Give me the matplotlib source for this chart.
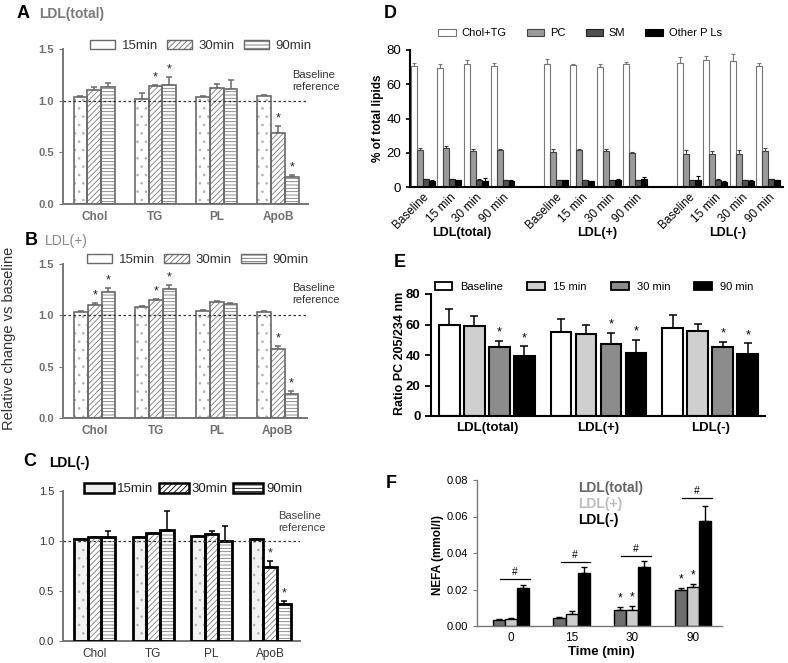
import matplotlib
matplotlib.use('Agg')
import matplotlib.pyplot as plt
import numpy as np
from matplotlib.patches import Patch

plt.rcParams['font.family'] = ['Liberation Sans', 'DejaVu Sans']
plt.rcParams['hatch.linewidth'] = 0.6

# ---------------- data ----------------
components = ['Chol', 'TG', 'PL', 'ApoB']
times_abc = ['15min', '30min', '90min']

A_15 = [1.04, 1.02, 1.035, 1.045]
A_30 = [1.10, 1.14, 1.12, 0.686]
A_90 = [1.13, 1.15, 1.11, 0.265]
A_15_err = [0.01, 0.05, 0.008, 0.008]
A_30_err = [0.035, 0.012, 0.04, 0.07]
A_90_err = [0.04, 0.08, 0.09, 0.015]
A_sig_30 = [0, 1, 0, 1]
A_sig_90 = [0, 1, 0, 1]

B_15 = [1.03, 1.08, 1.04, 1.03]
B_30 = [1.10, 1.15, 1.13, 0.67]
B_90 = [1.23, 1.26, 1.11, 0.234]
B_15_err = [0.008, 0.008, 0.008, 0.008]
B_30_err = [0.02, 0.01, 0.008, 0.03]
B_90_err = [0.035, 0.04, 0.008, 0.025]
B_sig_30 = [1, 1, 0, 1]
B_sig_90 = [1, 1, 0, 1]

C_15 = [1.017, 1.037, 1.05, 1.017]
C_30 = [1.04, 1.077, 1.067, 0.736]
C_90 = [1.04, 1.11, 1.00, 0.368]
C_15_err = [0.005, 0.005, 0.005, 0.008]
C_30_err = [0.005, 0.005, 0.035, 0.065]
C_90_err = [0.06, 0.19, 0.15, 0.035]
C_sig_30 = [0, 0, 0, 1]
C_sig_90 = [0, 0, 0, 1]

D_fractions = ['LDL(total)', 'LDL(+)', 'LDL(-)']
D_times = ['Baseline', '15 min', '30 min', '90 min']
D_series = ['Chol+TG', 'PC', 'SM', 'Other P Ls']
D_choltg = [70.4, 69.7, 71.6, 70.8, 71.6, 71.0, 70.2, 71.6, 72.6, 74.0, 73.4, 70.8]
D_choltg_err = [2.2, 2.3, 2.4, 1.8, 2.9, 1.0, 1.8, 1.4, 3.4, 2.5, 4.1, 1.8]
D_pc = [21.5, 22.6, 21.0, 21.5, 20.5, 21.5, 20.9, 19.7, 19.5, 19.5, 19.5, 20.9]
D_pc_err = [1.3, 1.4, 1.2, 0.7, 1.7, 0.7, 1.3, 1.0, 2.2, 1.8, 2.2, 1.7]
D_sm = [4.5, 4.6, 4.0, 4.0, 4.0, 4.0, 4.0, 4.0, 4.0, 4.3, 4.0, 4.6]
D_sm_err = [0.4, 0.3, 0.4, 0.3, 0.3, 0.3, 0.3, 0.3, 0.3, 0.4, 0.3, 0.3]
D_other = [3.5, 3.8, 3.6, 3.5, 3.8, 3.3, 4.2, 4.5, 4.0, 3.0, 3.5, 3.8]
D_other_err = [0.3, 0.3, 1.5, 0.3, 0.4, 0.3, 0.6, 1.3, 2.2, 0.4, 0.4, 0.5]

E_groups = ['LDL(total)', 'LDL(+)', 'LDL(-)']
E_series = ['Baseline', '15 min', '30 min', '90 min']
E_base = [59.8, 54.9, 57.6]
E_15 = [58.7, 53.8, 55.8]
E_30 = [45.5, 47.5, 45.5]
E_90 = [39.6, 41.1, 40.4]
E_base_err = [10.5, 8.6, 8.6]
E_15_err = [7.0, 6.0, 4.6]
E_30_err = [4.0, 7.2, 3.3]
E_90_err = [6.1, 8.8, 7.3]
E_sig = [0, 0, 1, 1]

F_times = ['0', '15', '30', '90']
F_series = ['LDL(total)', 'LDL(+)', 'LDL(-)']
F_total = [0.0033, 0.0044, 0.0086, 0.0196]
F_plus = [0.0038, 0.0064, 0.0086, 0.0214]
F_minus = [0.0209, 0.0291, 0.0322, 0.0577]
F_total_err = [0.0003, 0.0004, 0.0018, 0.0013]
F_plus_err = [0.0004, 0.0020, 0.0024, 0.0018]
F_minus_err = [0.0014, 0.0033, 0.0033, 0.0082]
F_sig_total = [0, 0, 1, 1]
F_sig_plus = [0, 0, 1, 1]
F_hash_y = [0.0256, 0.0352, 0.0385, 0.070]

# ---------------- figure ----------------
W, H = 788, 663
fig = plt.figure(figsize=(W / 100, H / 100), dpi=100)


def ax_px(l, t, r, b):
    return fig.add_axes([l / W, 1 - b / H, (r - l) / W, (b - t) / H])


def ftext(x, y, s, **kw):
    return fig.text(x / W, 1 - y / H, s, **kw)


def fleg(ax, handles, labels, x, y, **kw):
    return ax.legend(handles, labels, loc='center', bbox_to_anchor=(x / W, 1 - y / H),
                     bbox_transform=fig.transFigure, frameon=False, **kw)


hatches = ['..', '//////', '-----']
hatch_cols = ['#b0b0b0', '#7a7a7a', '#7a7a7a']


def abc_panel(ax, vals, errs, sigs, xlim, heavy, tickcol, tickweight):
    n = len(components)
    xs = np.arange(n)
    bw = 0.225 if not heavy else 0.234
    edge = '#6a6a6a'
    for k, (v, e, h) in enumerate(zip(vals, errs, hatches)):
        x = xs + (k - 1) * bw
        fc = '#f2f2f2' if (heavy and k == 0) else 'white'
        ax.bar(x, v, bw, color=fc, edgecolor=hatch_cols[k], hatch=h, linewidth=0, zorder=2)
        if heavy:
            ax.bar(x, v, bw, fill=False, edgecolor='black', linewidth=2.0, zorder=3)
            ecol = 'black'
        else:
            ax.bar(x, v, bw, fill=False, edgecolor=edge, linewidth=1.2, zorder=3)
            ecol = edge
        ax.errorbar(x, v, yerr=[np.zeros(n), e], fmt='none', ecolor=ecol, capsize=2.5,
                    elinewidth=1.1, capthick=1.1, zorder=1)
        if sigs[k] is not None:
            for i in range(n):
                if sigs[k][i]:
                    ax.text(x[i], v[i] + e[i] + 0.015, '*', ha='center', va='bottom',
                            fontsize=9, color='#222222')
    ax.axhline(1.0, color='#333333', ls=(0, (2, 2)), lw=0.9, zorder=4)
    ax.set_xlim(*xlim)
    ax.set_ylim(0, 1.5)
    ax.set_yticks([0, 0.5, 1.0, 1.5])
    ax.set_yticklabels(['0.0', '0.5', '1.0', '1.5'])
    ax.set_xticks(xs)
    ax.set_xticklabels(components)
    for s in ['top', 'right']:
        ax.spines[s].set_visible(False)
    scol = '#777777'
    for s in ['left', 'bottom']:
        ax.spines[s].set_color(scol)
        ax.spines[s].set_linewidth(1.4)
    ax.tick_params(axis='x', length=0, pad=5, labelsize=8.5, labelcolor=tickcol)
    ax.tick_params(axis='y', length=3, color=scol, labelsize=8, labelcolor=tickcol)
    for lab in ax.get_xticklabels() + ax.get_yticklabels():
        lab.set_fontweight(tickweight)
    ax.patch.set_visible(False)


# ---- Panel A ----
axA = ax_px(63, 49, 308, 204)
abc_panel(axA, [A_15, A_30, A_90], [A_15_err, A_30_err, A_90_err],
          [None, A_sig_30, A_sig_90], (-0.51, 3.49), False, '#6f6f6f', 'bold')
hA = [Patch(facecolor='white', edgecolor='#6a6a6a', hatch=h, linewidth=1)
      for h in ['', '//////', '-----']]
fleg(axA, hA, times_abc, 201, 46, ncol=3, fontsize=9.5, handlelength=1.9, handleheight=0.7,
     columnspacing=0.7, handletextpad=0.5, labelcolor='#333333')
ftext(292, 81, 'Baseline\nreference', fontsize=8, va='center', ha='left', color='#333333',
      linespacing=1.2)
ftext(17, 13, 'A', fontsize=13, fontweight='bold', va='center')
ftext(39, 14, 'LDL(total)', fontsize=10, fontweight='bold', color='#7a7a7a', va='center')

# ---- Panel B ----
axB = ax_px(63, 264, 307, 418)
abc_panel(axB, [B_15, B_30, B_90], [B_15_err, B_30_err, B_90_err],
          [None, B_sig_30, B_sig_90], (-0.52, 3.48), False, '#6f6f6f', 'bold')
fleg(axB, hA, times_abc, 198, 260, ncol=3, fontsize=9.5, handlelength=1.9, handleheight=0.7,
     columnspacing=0.7, handletextpad=0.5, labelcolor='#333333')
ftext(292, 294, 'Baseline\nreference', fontsize=8, va='center', ha='left', color='#333333',
      linespacing=1.2)
ftext(25, 240, 'B', fontsize=13, fontweight='bold', va='center')
ftext(45, 241, 'LDL(+)', fontsize=10, color='#8a8a8a', va='center')
ftext(9, 338, 'Relative change vs baseline', fontsize=10.5, rotation=90, va='center',
      ha='center', color='#333333')

# ---- Panel C ----
axC = ax_px(63, 491, 300, 641)
abc_panel(axC, [C_15, C_30, C_90], [C_15_err, C_30_err, C_90_err],
          [None, C_sig_30, C_sig_90], (-0.54, 3.51), True, '#333333', 'normal')
hC = [Patch(facecolor=('#eeeeee' if i == 0 else 'white'), edgecolor='black', hatch=h,
            linewidth=1.8) for i, h in enumerate(['', '//////', '-----'])]
fleg(axC, hC, times_abc, 193, 489, ncol=3, fontsize=9.5, handlelength=2.3, handleheight=0.8,
     columnspacing=0.4, handletextpad=0.2, labelcolor='#222222')
ftext(278, 522, 'Baseline\nreference', fontsize=8, va='center', ha='left', color='#444444',
      linespacing=1.2)
ftext(23, 462, 'C', fontsize=13, fontweight='bold', va='center')
ftext(49, 463, 'LDL(-)', fontsize=10, fontweight='bold', color='black', va='center')

# ---- Panel D ----
axD = ax_px(410, 50, 783, 187)
dbw = 0.225
gpos = np.array([f * 5 + t for f in range(len(D_fractions)) for t in range(len(D_times))])
d_vals = [D_choltg, D_pc, D_sm, D_other]
d_errs = [D_choltg_err, D_pc_err, D_sm_err, D_other_err]
d_fc = ['white', '#9a9a9a', '#505050', 'black']
d_ec = ['#777777', '#444444', '#222222', 'black']
for k in range(4):
    x = gpos + dbw * (k + 0.5)
    axD.bar(x, d_vals[k], dbw, color=d_fc[k], edgecolor=d_ec[k], linewidth=0.8, zorder=2)
    axD.errorbar(x, d_vals[k], yerr=[np.zeros(len(x)), d_errs[k]], fmt='none',
                 ecolor=d_ec[k], capsize=1.2, elinewidth=0.8, capthick=0.8, zorder=1)
axD.set_xlim(-0.03, 14.0)
axD.set_ylim(0, 80)
axD.set_yticks([0, 20, 40, 60, 80])
axD.set_xticks(gpos + 0.45)
axD.set_xticklabels(D_times * len(D_fractions), rotation=45, ha='right',
                    rotation_mode='anchor')
axD.tick_params(axis='x', length=0, pad=3, labelsize=8.5)
axD.tick_params(axis='y', length=3, labelsize=9.5, width=1.2)
for s in ['top', 'right']:
    axD.spines[s].set_visible(False)
for s in ['left', 'bottom']:
    axD.spines[s].set_linewidth(1.5)
hD = [Patch(facecolor=c, edgecolor=e, linewidth=0.8) for c, e in zip(d_fc, d_ec)]
fleg(axD, hD, D_series, 580, 33, ncol=4, fontsize=8, handlelength=1.6, handleheight=0.6,
     columnspacing=1.8, handletextpad=0.5)
for xc, lab in zip([462, 597, 728], D_fractions):
    ftext(xc, 233, lab, fontsize=9, fontweight='bold', ha='center', va='center')
ftext(378, 118, '% of total lipids', fontsize=8.5, fontweight='bold', rotation=90,
      ha='center', va='center')
ftext(384, 14, 'D', fontsize=13, fontweight='bold', va='center')

# ---- Panel E ----
axE = ax_px(431, 294, 765, 416)
ebw = 0.185
estep = 0.224
e_vals = [E_base, E_15, E_30, E_90]
e_errs = [E_base_err, E_15_err, E_30_err, E_90_err]
e_fc = ['white', '#cfcfcf', '#8c8c8c', 'black']
xsE = np.arange(len(E_groups))
for k in range(4):
    x = xsE + (k - 1.5) * estep
    axE.bar(x, e_vals[k], ebw, color=e_fc[k], edgecolor='black', linewidth=1.5, zorder=2)
    axE.errorbar(x, e_vals[k], yerr=[np.zeros(len(x)), e_errs[k]], fmt='none',
                 ecolor='black', capsize=3, elinewidth=1.1, capthick=1.1, zorder=1)
    if E_sig[k]:
        for i in range(len(x)):
            axE.text(x[i], e_vals[k][i] + e_errs[k][i] + 1.5, '*', ha='center',
                     va='bottom', fontsize=9)
axE.set_xlim(-0.5, 2.49)
axE.set_ylim(0, 80)
axE.set_yticks([0, 20, 40, 60, 80])
axE.set_xticks(xsE)
axE.set_xticklabels(E_groups)
axE.tick_params(axis='x', length=0, pad=4, labelsize=9.5)
axE.tick_params(axis='y', length=4, width=1.3, labelsize=9.5)
for lab in axE.get_xticklabels() + axE.get_yticklabels():
    lab.set_fontweight('bold')
for s in ['top', 'right']:
    axE.spines[s].set_visible(False)
for s in ['left', 'bottom']:
    axE.spines[s].set_linewidth(1.5)
hE = [Patch(facecolor=c, edgecolor='black', linewidth=1.3) for c in e_fc]
fleg(axE, hE, E_series, 594, 287, ncol=4, fontsize=8, handlelength=1.6, handleheight=0.7,
     columnspacing=2.2, handletextpad=0.7)
ftext(400, 353, 'Ratio PC 205/234 nm', fontsize=9, fontweight='bold', rotation=90,
      ha='center', va='center')
ftext(394, 263, 'E', fontsize=13, fontweight='bold', va='center')

# ---- Panel F ----
axF = ax_px(477, 480, 722, 626)
fbw = 0.2
f_vals = [F_total, F_plus, F_minus]
f_errs = [F_total_err, F_plus_err, F_minus_err]
f_sigs = [F_sig_total, F_sig_plus, [0, 0, 0, 0]]
f_fc = ['#6e6e6e', '#cccccc', 'black']
xsF = np.arange(len(F_times))
for k in range(3):
    x = xsF + (k - 1) * fbw
    axF.bar(x, f_vals[k], fbw, color=f_fc[k], edgecolor='black', linewidth=1.0, zorder=2)
    axF.errorbar(x, f_vals[k], yerr=[np.zeros(len(x)), f_errs[k]], fmt='none',
                 ecolor='black', capsize=2.5, elinewidth=1.0, capthick=1.0, zorder=1)
    for i in range(len(x)):
        if f_sigs[k][i]:
            axF.text(x[i], f_vals[k][i] + f_errs[k][i] + 0.0012, '*', ha='center',
                     va='bottom', fontsize=8.5)
for i in range(len(xsF)):
    axF.plot([xsF[i] - 0.18, xsF[i] + 0.31], [F_hash_y[i], F_hash_y[i]], color='black',
             lw=0.9)
    axF.text(xsF[i] + 0.06, F_hash_y[i] + 0.001, '#', ha='center', va='bottom', fontsize=7.5)
axF.set_xlim(-0.56, 3.48)
axF.set_ylim(0, 0.08)
axF.set_yticks([0, 0.02, 0.04, 0.06, 0.08])
axF.set_yticklabels(['0.00', '0.02', '0.04', '0.06', '0.08'])
axF.set_xticks(xsF)
axF.set_xticklabels(F_times)
axF.tick_params(axis='x', length=0, pad=4, labelsize=8.5)
axF.tick_params(axis='y', length=3, color='#777777', labelsize=8)
for s in ['top', 'right']:
    axF.spines[s].set_visible(False)
for s in ['left', 'bottom']:
    axF.spines[s].set_color('#777777')
    axF.spines[s].set_linewidth(1.0)
for lab, col, yy in zip(F_series, ['#666666', '#bdbdbd', 'black'], [488, 504, 520]):
    ftext(578, yy, lab, fontsize=10, fontweight='bold', color=col, va='center')
ftext(438, 555, 'NEFA (mmol/l)', fontsize=8.5, fontweight='bold', rotation=90,
      ha='center', va='center')
ftext(601, 652, 'Time (min)', fontsize=9.5, fontweight='bold', ha='center', va='center')
ftext(386, 483, 'F', fontsize=13, fontweight='bold', va='center')

fig.savefig('out.png', dpi=100)
